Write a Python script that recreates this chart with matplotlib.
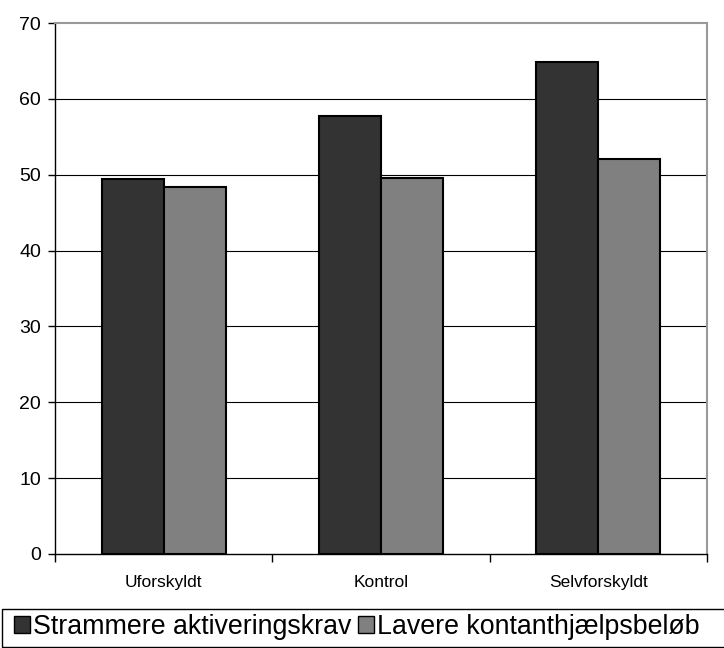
import numpy as np
import matplotlib.pyplot as plt
from matplotlib.patches import Rectangle

plt.rcParams['font.family'] = ['Liberation Sans', 'DejaVu Sans']

# Data
categories = ['Uforskyldt', 'Kontrol', 'Selvforskyldt']
strammere = [49.4, 57.7, 64.9]
lavere = [48.4, 49.6, 52.1]
series_names = ['Strammere aktiveringskrav', 'Lavere kontanthjælpsbeløb']
colors = ['#333333', '#808080']

fig = plt.figure(figsize=(7.24, 6.48), dpi=100)
ax = fig.add_axes([55 / 724, 1 - 554 / 648, 652 / 724, 531 / 648])

x = np.arange(len(categories))
w = 0.286
ax.bar(x - w / 2, strammere, w, color=colors[0], edgecolor='black', linewidth=1.5, zorder=3)
ax.bar(x + w / 2, lavere, w, color=colors[1], edgecolor='black', linewidth=1.5, zorder=3)

ax.set_xlim(-0.5, 2.5)
ax.set_ylim(0, 70)
ax.set_yticks(range(0, 71, 10))
ax.set_xticks(x)
ax.set_xticklabels(categories, fontsize=12.5)
ax.tick_params(axis='x', length=0, pad=15)
ax.set_xticks([-0.5, 0.5, 1.5, 2.5], minor=True)
ax.tick_params(axis='x', which='minor', length=6, width=1)
ax.tick_params(axis='y', labelsize=14, length=5, width=1, pad=5)

for y in range(10, 70, 10):
    ax.axhline(y, color='black', linewidth=0.8, zorder=1)

ax.spines['left'].set_linewidth(1)
ax.spines['bottom'].set_linewidth(1)
ax.spines['top'].set_color('#999999')
ax.spines['top'].set_linewidth(1.5)
ax.spines['right'].set_color('#999999')
ax.spines['right'].set_linewidth(1.5)

# Legend box along the bottom
fig.patches.append(Rectangle((2 / 724, 0.001), 730 / 724, 38 / 648,
                             transform=fig.transFigure, fill=False,
                             edgecolor='black', linewidth=1))
handles = [Rectangle((0, 0), 1, 1, facecolor=c, edgecolor='black', linewidth=1) for c in colors]
leg = fig.legend(handles, series_names, loc='lower left', bbox_to_anchor=(-0.003, -0.012),
                 ncol=2, frameon=False, fontsize=19.3, handlelength=0.6, handleheight=0.6,
                 handletextpad=0.1, columnspacing=0.25, borderaxespad=0.2)

fig.savefig('out.png', dpi=100)
